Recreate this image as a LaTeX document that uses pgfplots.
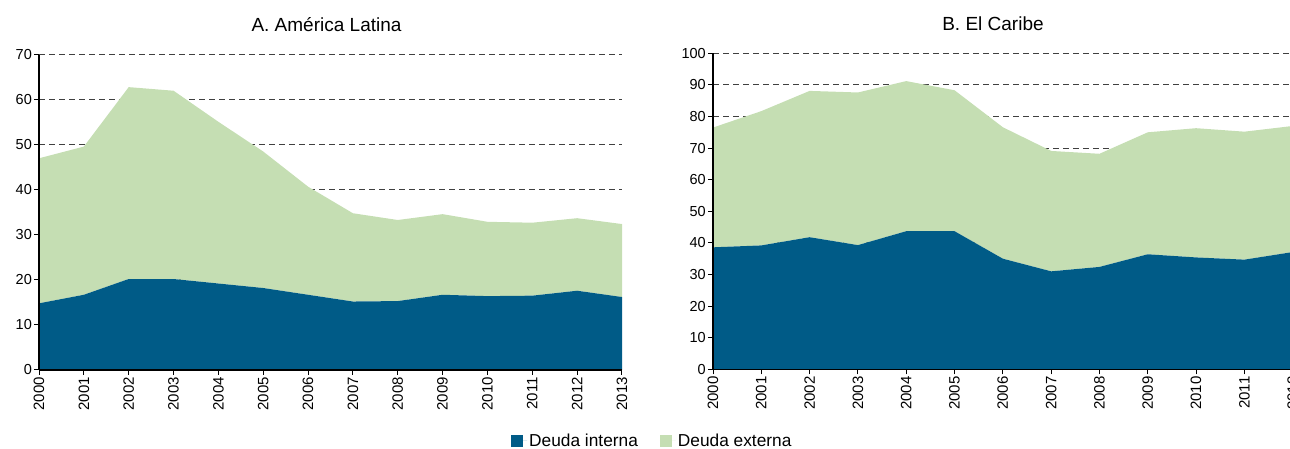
\documentclass[border=0pt]{standalone}
\usepackage{fontspec}
\setmainfont{Liberation Sans}
\usepackage{pgfplots}
\pgfplotsset{compat=1.18}

\definecolor{interna}{RGB}{0,91,135}
\definecolor{externa}{RGB}{197,222,179}

\pgfplotsset{
  layers/gridbelow/.define layer set={axis background,axis grid,pre main,main,axis ticks,axis lines,axis tick labels,axis descriptions,axis foreground}{
    grid style={/pgfplots/on layer=axis grid},
    tick style={/pgfplots/on layer=axis ticks},
    axis line style={/pgfplots/on layer=axis lines},
    label style={/pgfplots/on layer=axis descriptions},
    legend style={/pgfplots/on layer=axis descriptions},
    title style={/pgfplots/on layer=axis descriptions},
    ticklabel style={/pgfplots/on layer=axis tick labels},
  },
  deuda/.style={
    set layers=gridbelow,
    scale only axis,
    anchor=south west,
    xmin=2000, xmax=2013,
    ymin=0,
    xtick={2000,...,2013},
    axis x line*=bottom,
    axis y line*=left,
    tick align=outside,
    major tick length=5pt,
    axis line style={black, line width=1.3pt},
    tick style={black, line width=1pt},
    ymajorgrids,
    grid style={black!75, dash pattern=on 6pt off 4pt, line width=1pt},
    stack plots=y,
    /pgf/number format/assume math mode=true,
    xticklabel style={rotate=90, anchor=east, inner sep=2pt,
      font=\fontsize{15}{15}\selectfont, /pgf/number format/1000 sep={}},
    yticklabel style={font=\fontsize{14.5}{15}\selectfont, inner sep=2pt},
  },
}

\begin{document}
\begin{tikzpicture}

% A. America Latina
\begin{axis}[deuda,
  at={(39pt,79pt)},
  width=583pt, height=315.3pt,
  ymax=70, ytick={0,10,...,70},
  legend columns=2,
  legend style={at={(axis description cs:1.052,-0.225)}, anchor=center,
    draw=none, fill=none, font=\fontsize{17.3}{17}\selectfont,
    /tikz/every even column/.append style={column sep=20pt}},
  legend image code/.code={\path (0pt,0pt) -- (16pt,0pt);
    \fill[#1] (0pt,-6pt) rectangle (12pt,6pt);},
]
\addplot[fill=interna, draw=none] coordinates {
  (2000,14.8) (2001,16.7) (2002,20.2) (2003,20.2) (2004,19.2) (2005,18.2) (2006,16.7)
  (2007,15.2) (2008,15.3) (2009,16.7) (2010,16.4) (2011,16.5) (2012,17.6) (2013,16.2)
} \closedcycle;
\addlegendentry{Deuda interna}
\addplot[fill=externa, draw=none] coordinates {
  (2000,32.2) (2001,32.9) (2002,42.6) (2003,41.8) (2004,35.9) (2005,30.3) (2006,24.0)
  (2007,19.6) (2008,18.0) (2009,17.9) (2010,16.5) (2011,16.2) (2012,16.1) (2013,16.2)
} \closedcycle;
\addlegendentry{Deuda externa}
\end{axis}

% B. El Caribe
\begin{axis}[deuda,
  at={(713pt,79.7pt)},
  width=628pt, height=316pt,
  ymax=100, ytick={0,10,...,100},
]
\addplot[fill=interna, draw=none] coordinates {
  (2000,38.6) (2001,39.2) (2002,41.8) (2003,39.3) (2004,43.7) (2005,43.7) (2006,35.0)
  (2007,31.0) (2008,32.4) (2009,36.4) (2010,35.4) (2011,34.7) (2012,37.1)
} \closedcycle;
\addplot[fill=externa, draw=none] coordinates {
  (2000,37.9) (2001,42.5) (2002,46.3) (2003,48.3) (2004,47.5) (2005,44.6) (2006,41.6)
  (2007,38.1) (2008,35.8) (2009,38.6) (2010,40.9) (2011,40.5) (2012,39.9)
} \closedcycle;
\end{axis}

\node[anchor=base, font=\fontsize{19}{19}\selectfont] at (326.5pt,417.5pt) {A. América Latina};
\node[anchor=base, font=\fontsize{19}{19}\selectfont] at (993pt,418pt) {B. El Caribe};

\pgfresetboundingbox
\path[use as bounding box] (0pt,0pt) rectangle (1290pt,449pt);
\end{tikzpicture}
\end{document}
